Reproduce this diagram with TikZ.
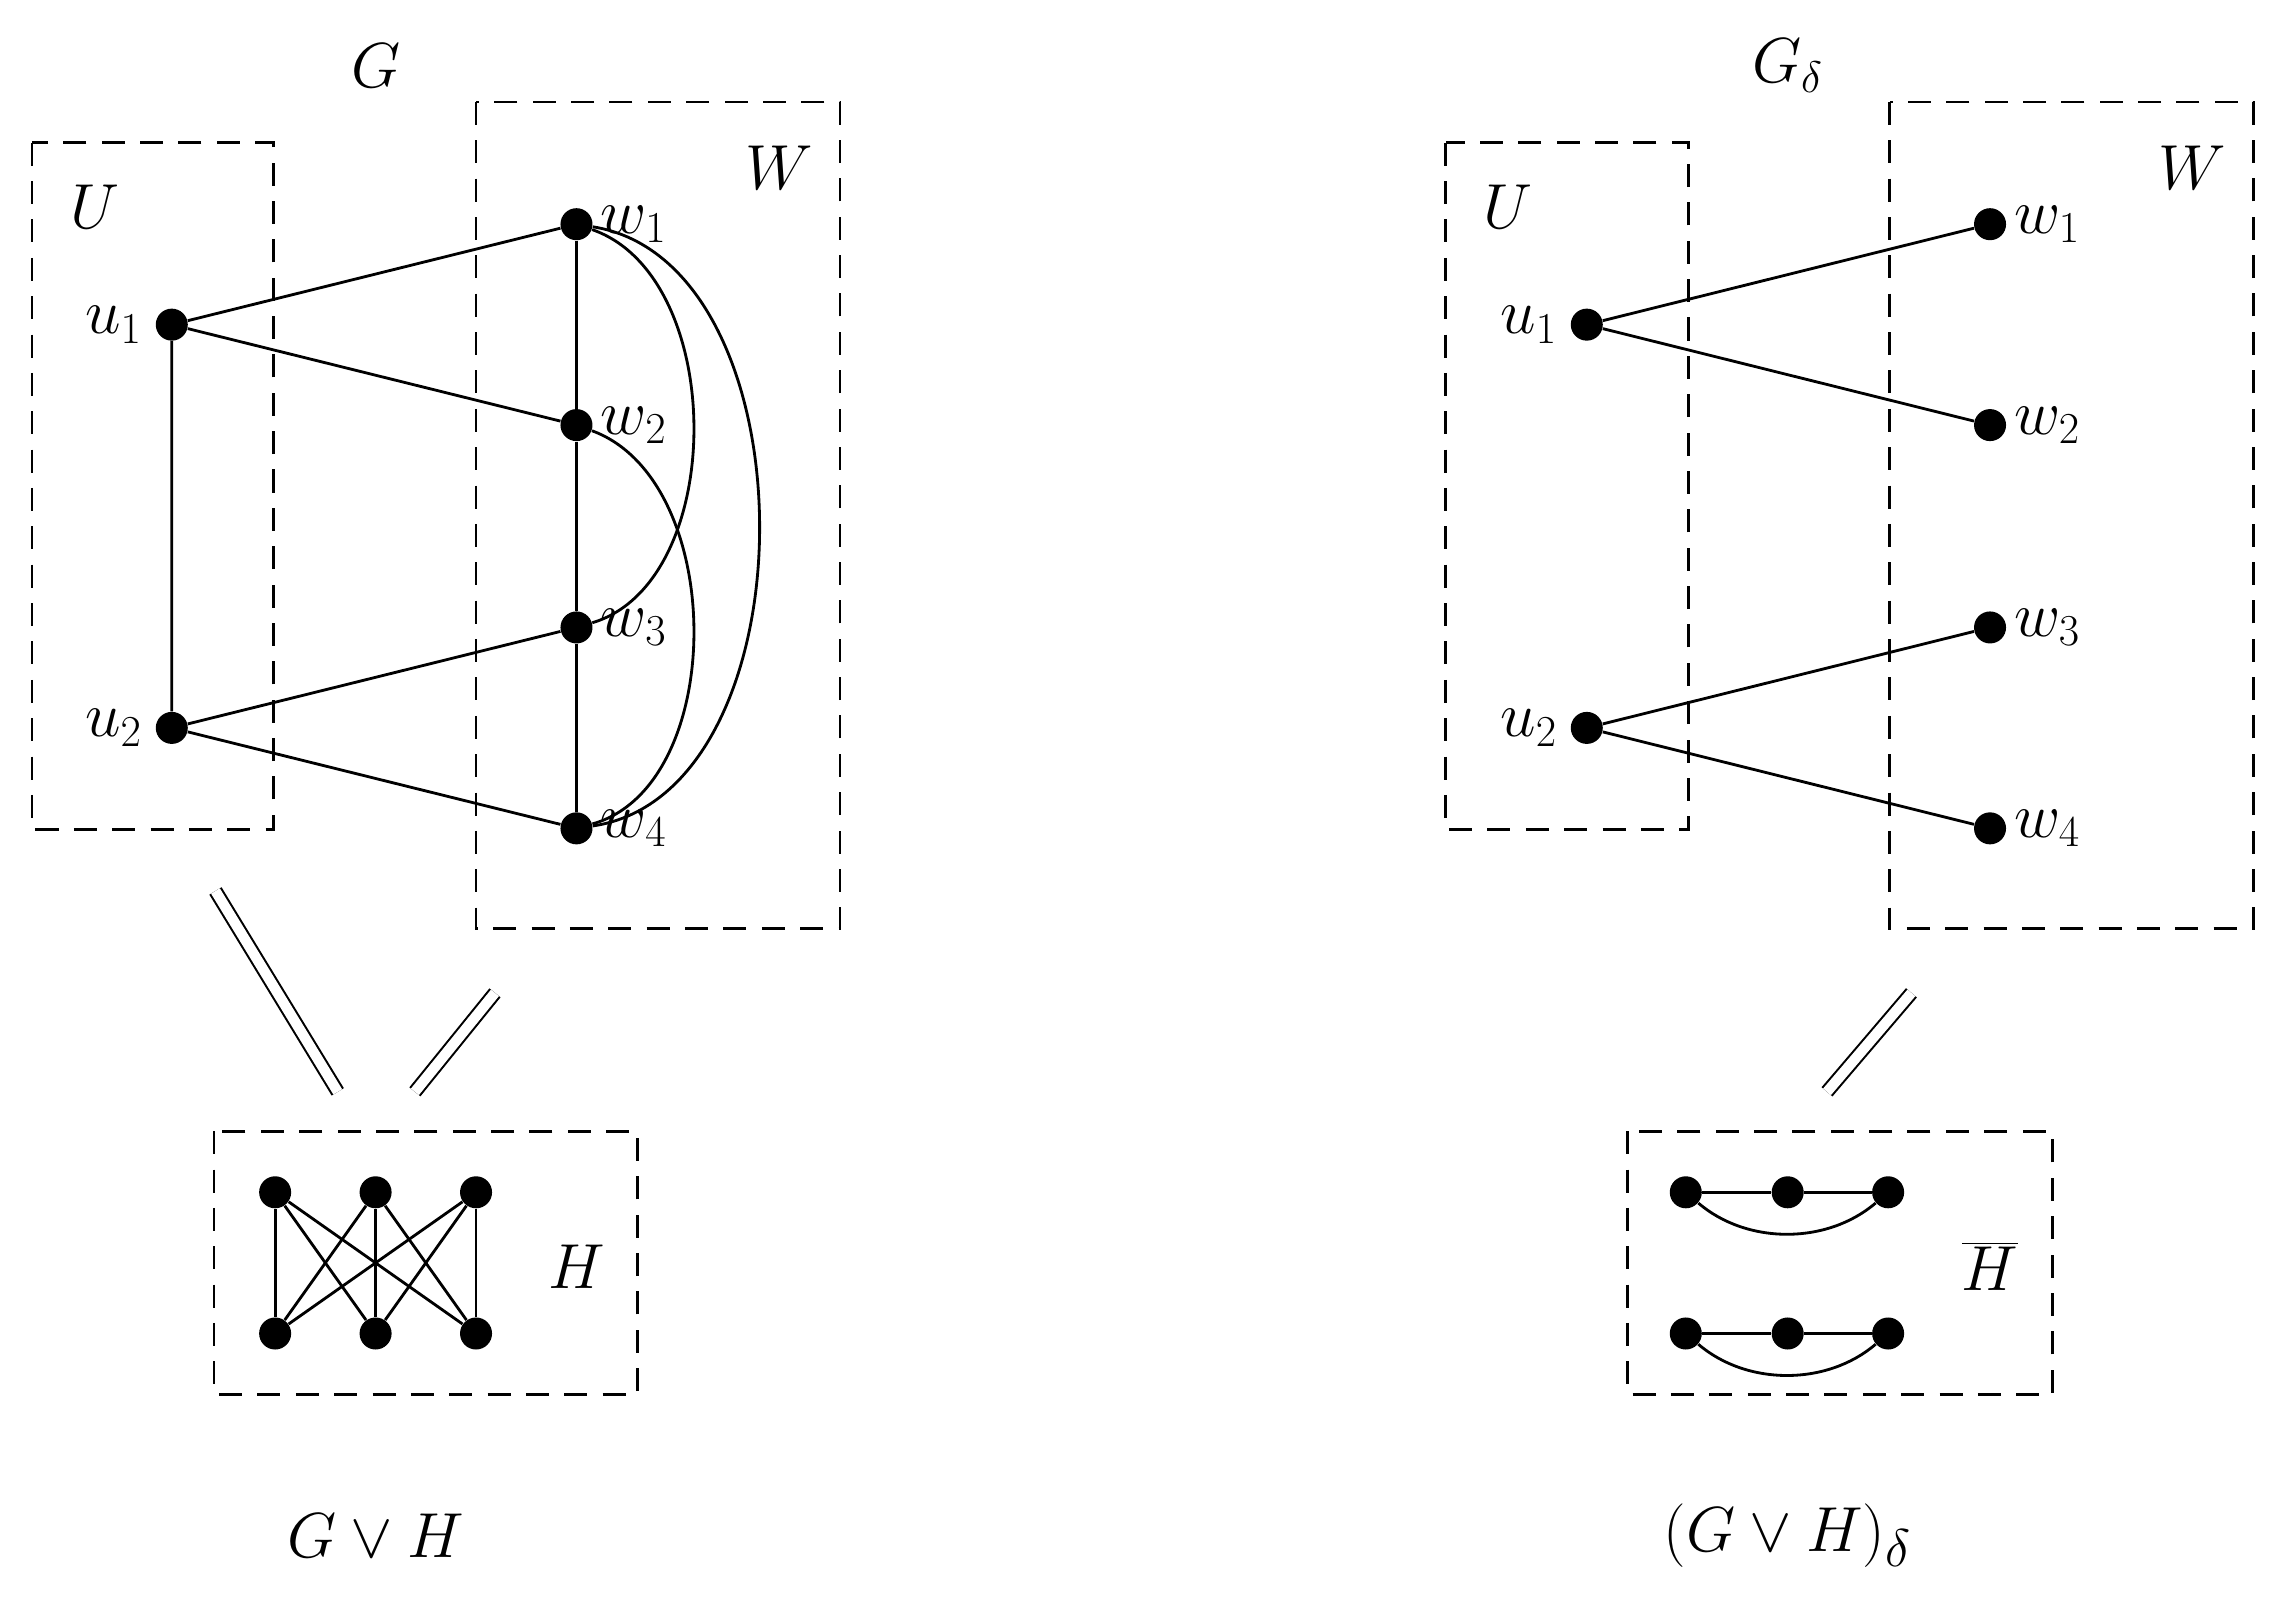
\documentclass[tikz,border=0pt]{standalone}
\begin{document}
\begin{tikzpicture}[x=0.02cm,y=-0.02cm,
  v/.style={circle,fill=black,inner sep=0pt,minimum size=0.44cm},
  box/.style={dashed,line width=1.1pt,dash pattern=on 9pt off 6pt},
  e/.style={line width=1.1pt},
  lab/.style={font=\fontsize{24}{28}\selectfont},
  dbl/.style={double,double distance=4pt,line width=0.8pt}]
\useasboundingbox (0,0) rectangle (1560,1100);
% left
\draw[box] (22,98) rectangle (188,570);
\draw[box] (327,70) rectangle (577,638);
\node[lab] (G) at (258,45) {$G$};
\node[lab] (U) at (65,142) {$U$};
\node[lab] (W) at (535,115) {$W$};
\node[v] (u1) at (118,223) {}; \node[lab,left=8pt] (lu1) at (u1) {$u_1$};
\node[v] (u2) at (118,500) {}; \node[lab,left=8pt] (lu2) at (u2) {$u_2$};
\foreach \i/\y in {1/154,2/292,3/431,4/569}{
  \node[v] (w\i) at (396,\y) {}; \node[lab,right=6pt] (lw\i) at (w\i) {$w_\i$};}
\draw[e] (u1)--(u2) (u1)--(w1) (u1)--(w2) (u2)--(w3) (u2)--(w4);
\draw[line width=0.8pt] (w1)--(w2)--(w3)--(w4);
\draw[e] (w1) .. controls (500,190) and (500,400) .. (w3);
\draw[e] (w2) .. controls (500,330) and (500,540) .. (w4);
\draw[e] (w1) .. controls (560,180) and (560,545) .. (w4);
\coordinate (a1) at (148,612); \coordinate (a2) at (232,750);
\coordinate (b1) at (340,682); \coordinate (b2) at (285,750);
\draw[dbl] (a1)--(a2); \draw[dbl] (b1)--(b2);
\draw[box] (147,777) rectangle (438,958);
\foreach \i/\x in {1/189,2/258,3/327}{
  \node[v] (t\i) at (\x,819) {}; \node[v] (b\i) at (\x,916) {};}
\foreach \i in {1,2,3}{\foreach \j in {1,2,3}{\draw[e] (t\i)--(b\j);}}
\node[lab] (H) at (396,870) {$H$};
\node[lab,font=\fontsize{30}{34}\selectfont] (GH) at (258,1055) {$G\vee H$};
% right
\draw[box] (993,98) rectangle (1160,570);
\draw[box] (1298,70) rectangle (1548,638);
\node[lab] (Gd) at (1228,45) {$G_\delta$};
\node[lab] (U2) at (1036,142) {$U$};
\node[lab] (W2) at (1506,115) {$W$};
\node[v] (x1) at (1090,223) {}; \node[lab,left=8pt] (lx1) at (x1) {$u_1$};
\node[v] (x2) at (1090,500) {}; \node[lab,left=8pt] (lx2) at (x2) {$u_2$};
\foreach \i/\y in {1/154,2/292,3/431,4/569}{
  \node[v] (y\i) at (1367,\y) {}; \node[lab,right=6pt] (ly\i) at (y\i) {$w_\i$};}
\draw[e] (x1)--(y1) (x1)--(y2) (x2)--(y3) (x2)--(y4);
\coordinate (c1) at (1313,682); \coordinate (c2) at (1255,750);
\draw[dbl] (c1)--(c2);
\draw[box] (1118,777) rectangle (1410,958);
\foreach \i/\x in {1/1158,2/1228,3/1297}{
  \node[v] (p\i) at (\x,819) {}; \node[v] (q\i) at (\x,916) {};}
\draw[e] (p1)--(p2)--(p3) (q1)--(q2)--(q3);
\draw[e] (p1) .. controls (1200,855) and (1255,855) .. (p3);
\draw[e] (q1) .. controls (1200,952) and (1255,952) .. (q3);
\node[lab] (Hb) at (1367,870) {$\overline{H}$};
\node[lab,font=\fontsize{30}{34}\selectfont] (GHd) at (1228,1055) {$(G\vee H)_\delta$};
\end{tikzpicture}
\end{document}
